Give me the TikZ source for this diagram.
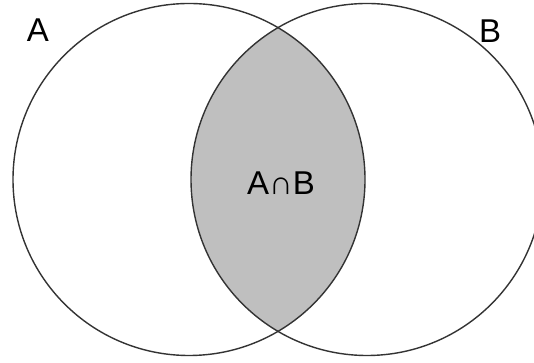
\documentclass[tikz,border=0pt]{standalone}
\usepackage{fontspec}
\setmainfont{Liberation Sans}
\begin{document}
\begin{tikzpicture}[x=1pt,y=1pt,
  setline/.style={draw=black!80,line width=1.4pt},
  lbl/.style={inner sep=0pt,font=\fontsize{33}{33}\selectfont}]
\useasboundingbox (0,0) rectangle (534,363);
\clip (0,0) rectangle (534,363);
\fill[white] (0,0) rectangle (534,363);
\begin{scope}
  \clip (189,183.5) circle (176);
  \fill[black!25] (367,183.5) circle (176);
\end{scope}
\node[setline,circle,minimum size=352pt,inner sep=0pt] (setA) at (189,183.5) {};
\node[setline,circle,minimum size=352pt,inner sep=0pt] (setB) at (367,183.5) {};
\node[lbl] (la) at (38,333) {A};
\node[lbl] (lb) at (490,332) {B};
\node[lbl] (lab) at (281,180) {A∩B};
\end{tikzpicture}
\end{document}
